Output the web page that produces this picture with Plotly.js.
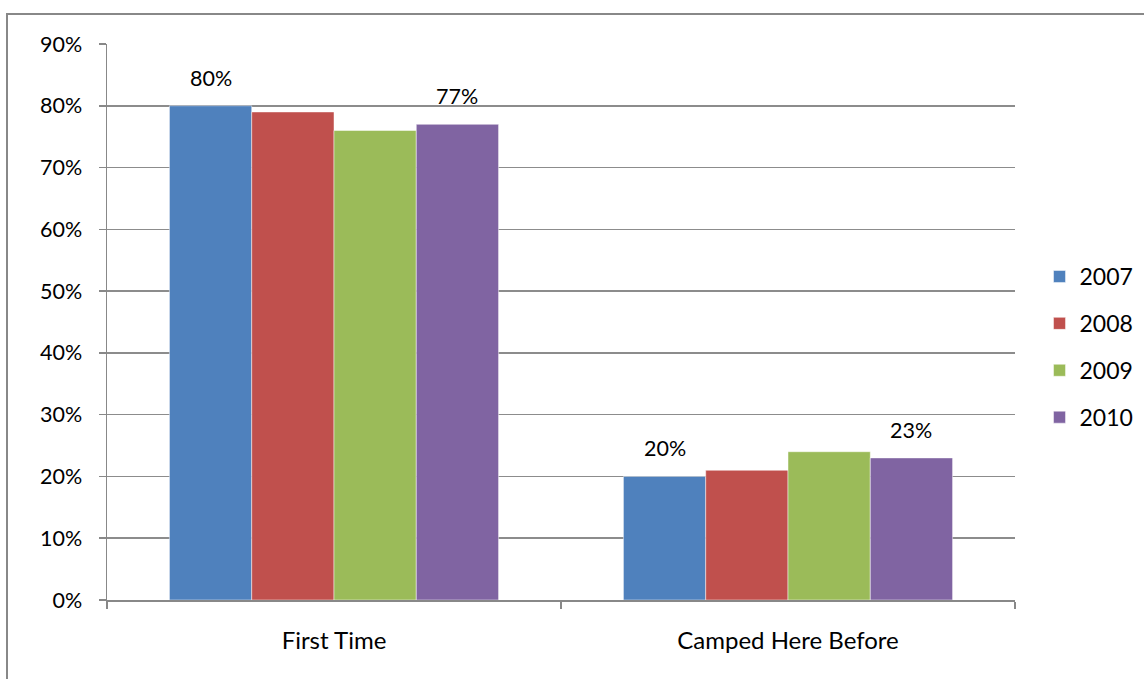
<!DOCTYPE html>
<html>
<head>
<meta charset="utf-8">
<script src="https://cdn.plot.ly/plotly-3.0.1.min.js"></script>
<style>
  html, body { margin: 0; padding: 0; background: #fff; overflow: hidden; }
  #frame { position: absolute; left: 6px; top: 13px; width: 1200px; height: 720px;
           border-left: 2px solid #888; border-top: 2px solid #888; pointer-events: none; }
  #chart { position: absolute; left: 0; top: 0; width: 1144px; height: 679px; }
</style>
</head>
<body>
<div id="chart"></div>
<div id="frame"></div>
<script>
const categories = ["First Time", "Camped Here Before"];
const seriesNames = ["2007", "2008", "2009", "2010"];
const v2007 = [0.80, 0.20];
const v2008 = [0.79, 0.21];
const v2009 = [0.76, 0.24];
const v2010 = [0.77, 0.23];
const labeledSeries = ["2007", "2010"];
const yTickVals = [0, 0.1, 0.2, 0.3, 0.4, 0.5, 0.6, 0.7, 0.8, 0.9];
const yTickText = ["0%", "10%", "20%", "30%", "40%", "50%", "60%", "70%", "80%", "90%"];

const colors = ["#4F81BD", "#C0504D", "#9BBB59", "#8064A2"];
const values = [v2007, v2008, v2009, v2010];
const FONT = "Lato, 'Noto Sans', sans-serif";
const bargap = 0.275;

const traces = values.map((vals, i) => ({
  type: "bar",
  name: seriesNames[i],
  x: categories,
  y: vals,
  legendgroup: "g" + i,
  marker: { color: colors[i], line: { color: "rgba(255,255,255,0.6)", width: 0.8 } },
  hoverinfo: "skip"
}));

// data labels above the first and last bar of each group
const annotations = [];
const nS = values.length;
const bw = (1 - bargap) / nS;
values.forEach((vals, i) => {
  if (!labeledSeries.includes(seriesNames[i])) return;
  const off = -(1 - bargap) / 2 + bw * (i + 0.5);
  vals.forEach((v, c) => {
    annotations.push({
      x: c + off, y: v, xref: "x", yref: "y",
      text: Math.round(v * 100) + "%",
      showarrow: false, yanchor: "bottom", yshift: 13,
      font: { family: FONT, size: 21.5, color: "#000" }
    });
  });
});

const layout = {
  width: 1144, height: 679,
  margin: { l: 107, r: 129, t: 44, b: 79, autoexpand: false },
  paper_bgcolor: "rgba(0,0,0,0)",
  plot_bgcolor: "rgba(0,0,0,0)",
  barmode: "group",
  bargap: bargap,
  bargroupgap: 0,
  font: { family: FONT, size: 21, color: "#000" },
  xaxis: {
    type: "category",
    automargin: false,
    showline: true, linecolor: "#888", linewidth: 1.5,
    ticks: "outside", tickson: "boundaries", ticklen: 7, tickcolor: "#888", tickwidth: 1.5,
    showgrid: false, zeroline: false,
    ticklabelstandoff: 19,
    tickfont: { family: FONT, size: 24, color: "#000" }
  },
  yaxis: {
    range: [0, 0.9],
    automargin: false,
    tickvals: yTickVals, ticktext: yTickText,
    showline: true, linecolor: "#888", linewidth: 1.5,
    ticks: "outside", ticklen: 7, tickcolor: "#888", tickwidth: 1.5,
    showgrid: true, gridcolor: "#8c8c8c", gridwidth: 1.5,
    zeroline: false,
    ticklabelstandoff: 12,
    tickfont: { family: FONT, size: 21.5, color: "#000" }
  },
  legend: {
    x: 1.027, xanchor: "left", y: 0.455, yanchor: "middle",
    font: { family: FONT, size: 23, color: "#000" },
    tracegroupgap: 14,
    bgcolor: "rgba(0,0,0,0)"
  },
  annotations: annotations,
  showlegend: true
};

Plotly.newPlot("chart", traces, layout, { displayModeBar: false, staticPlot: true });
</script>
</body>
</html>
